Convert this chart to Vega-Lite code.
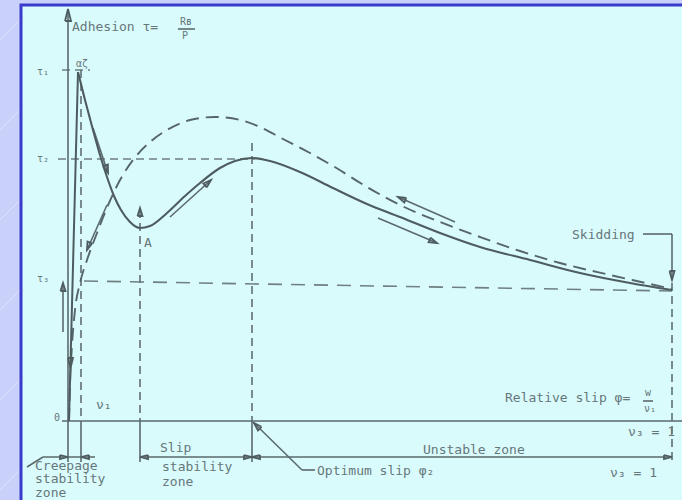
{
  "$schema": "https://vega.github.io/schema/vega-lite/v6.json",
  "width": 682,
  "height": 500,
  "autosize": {"type": "fit", "contains": "padding"},
  "padding": 0,
  "background": "#c9d1fa",
  "config": {"view": {"stroke": null}},
  "datasets": {
    "sheen": [
      {"x": -68, "y": 381, "x2": -48, "y2": 401},
      {"x": -68, "y": 291, "x2": -48, "y2": 311},
      {"x": -68, "y": 201, "x2": -48, "y2": 221},
      {"x": -68, "y": 111, "x2": -48, "y2": 131},
      {"x": -68, "y": 21, "x2": -48, "y2": 41},
      {"x": -68, "y": -69, "x2": -48, "y2": -49}
    ],
    "panel": [{"x": -47, "x2": 640, "y": 416, "y2": -100}],
    "adhesionRise": [{"x": 1, "y": 0}, {"x": 10, "y": 349}],
    "adhesionFall": [
      {"x": 10, "y": 349}, {"x": 17, "y": 321}, {"x": 25, "y": 291}, {"x": 32, "y": 266},
      {"x": 39, "y": 244}, {"x": 46, "y": 225}, {"x": 53, "y": 211}, {"x": 62, "y": 199},
      {"x": 72, "y": 193}, {"x": 82, "y": 195}, {"x": 99, "y": 208}, {"x": 117, "y": 225},
      {"x": 132, "y": 238}, {"x": 152, "y": 253}, {"x": 167, "y": 260}, {"x": 184, "y": 263},
      {"x": 202, "y": 260}, {"x": 232, "y": 249}, {"x": 265, "y": 233}, {"x": 299, "y": 217},
      {"x": 332, "y": 204}, {"x": 372, "y": 188}, {"x": 412, "y": 174}, {"x": 462, "y": 161},
      {"x": 512, "y": 148}, {"x": 562, "y": 138}, {"x": 604, "y": 131}
    ],
    "skidCurve": [
      {"x": 1, "y": 0}, {"x": 2, "y": 36}, {"x": 4, "y": 76}, {"x": 7, "y": 111},
      {"x": 12, "y": 138}, {"x": 19, "y": 161}, {"x": 29, "y": 188}, {"x": 41, "y": 218},
      {"x": 52, "y": 241}, {"x": 65, "y": 261}, {"x": 82, "y": 279}, {"x": 99, "y": 291},
      {"x": 122, "y": 301}, {"x": 147, "y": 304}, {"x": 172, "y": 301}, {"x": 192, "y": 294},
      {"x": 215, "y": 282}, {"x": 242, "y": 268}, {"x": 265, "y": 255}, {"x": 299, "y": 234},
      {"x": 332, "y": 216}, {"x": 372, "y": 199}, {"x": 412, "y": 184}, {"x": 452, "y": 170},
      {"x": 492, "y": 158}, {"x": 542, "y": 146}, {"x": 582, "y": 137}, {"x": 604, "y": 132}
    ],
    "solidRules": [
      {"x": 0, "y": 410, "x2": 0, "y2": -41},
      {"x": -6, "y": 0, "x2": 614, "y2": 0},
      {"x": 13, "y": 0, "x2": 13, "y2": -41},
      {"x": 72, "y": 0, "x2": 72, "y2": -41},
      {"x": 184, "y": 0, "x2": 184, "y2": -41},
      {"x": -25, "y": -36, "x2": 27, "y2": -36},
      {"x": -41, "y": -46, "x2": -25, "y2": -36},
      {"x": 72, "y": -36, "x2": 604, "y2": -36},
      {"x": 186, "y": -2, "x2": 234, "y2": -49},
      {"x": 234, "y": -49, "x2": 247, "y2": -49},
      {"x": 575, "y": 187, "x2": 604, "y2": 187},
      {"x": 604, "y": 187, "x2": 604, "y2": 141},
      {"x": 110, "y": 392, "x2": 127, "y2": 392},
      {"x": 575, "y": 20, "x2": 585, "y2": 20},
      {"x": -5, "y": 89, "x2": -5, "y2": 138},
      {"x": 25, "y": 293, "x2": 40, "y2": 248},
      {"x": 102, "y": 204, "x2": 143, "y2": 241},
      {"x": 387, "y": 199, "x2": 330, "y2": 224},
      {"x": 310, "y": 203, "x2": 369, "y2": 178},
      {"x": 39, "y": 216, "x2": 19, "y2": 171}
    ],
    "levelGuides": [
      {"x": -6, "y": 351, "x2": 22, "y2": 351},
      {"x": -10, "y": 262, "x2": 187, "y2": 262}
    ],
    "tau3Guide": [{"x": 16, "y": 140, "x2": 604, "y2": 130}],
    "slipGuides": [
      {"x": 13, "y": 351, "x2": 13, "y2": 0},
      {"x": 72, "y": 211, "x2": 72, "y2": 0},
      {"x": 184, "y": 278, "x2": 184, "y2": 0},
      {"x": 604, "y": 138, "x2": 604, "y2": -44}
    ],
    "arrowheads": [
      {"arrow": "a1", "i": 0, "x": 35.1, "y": 254.8}, {"arrow": "a1", "i": 1, "x": 40, "y": 248}, {"arrow": "a1", "i": 2, "x": 39.9, "y": 256.4}, {"arrow": "a1", "i": 3, "x": 35.1, "y": 254.8},
      {"arrow": "a2", "i": 0, "x": 138.8, "y": 233.7}, {"arrow": "a2", "i": 1, "x": 143, "y": 241}, {"arrow": "a2", "i": 2, "x": 135.4, "y": 237.5}, {"arrow": "a2", "i": 3, "x": 138.8, "y": 233.7},
      {"arrow": "a3", "i": 0, "x": 338.3, "y": 223}, {"arrow": "a3", "i": 1, "x": 330, "y": 224}, {"arrow": "a3", "i": 2, "x": 336.3, "y": 218.4}, {"arrow": "a3", "i": 3, "x": 338.3, "y": 223},
      {"arrow": "a4", "i": 0, "x": 362.6, "y": 183.4}, {"arrow": "a4", "i": 1, "x": 369, "y": 178}, {"arrow": "a4", "i": 2, "x": 360.6, "y": 178.8}, {"arrow": "a4", "i": 3, "x": 362.6, "y": 183.4},
      {"arrow": "a5", "i": 0, "x": 24.1, "y": 177.6}, {"arrow": "a5", "i": 1, "x": 19, "y": 171}, {"arrow": "a5", "i": 2, "x": 19.5, "y": 179.4}, {"arrow": "a5", "i": 3, "x": 24.1, "y": 177.6},
      {"arrow": "a6", "i": 0, "x": -7.5, "y": 130}, {"arrow": "a6", "i": 1, "x": -5, "y": 138}, {"arrow": "a6", "i": 2, "x": -2.5, "y": 130}, {"arrow": "a6", "i": 3, "x": -7.5, "y": 130},
      {"arrow": "a7", "i": 0, "x": 0, "y": 63}, {"arrow": "a7", "i": 1, "x": 2.5, "y": 53}, {"arrow": "a7", "i": 2, "x": 5, "y": 63}, {"arrow": "a7", "i": 3, "x": 0, "y": 63},
      {"arrow": "a8", "i": 0, "x": 69.5, "y": 205}, {"arrow": "a8", "i": 1, "x": 72, "y": 213}, {"arrow": "a8", "i": 2, "x": 74.5, "y": 205}, {"arrow": "a8", "i": 3, "x": 69.5, "y": 205},
      {"arrow": "a9", "i": 0, "x": 601.5, "y": 150}, {"arrow": "a9", "i": 1, "x": 604, "y": 141}, {"arrow": "a9", "i": 2, "x": 606.5, "y": 150}, {"arrow": "a9", "i": 3, "x": 601.5, "y": 150},
      {"arrow": "a10", "i": 0, "x": 193.5, "y": -5.8}, {"arrow": "a10", "i": 1, "x": 186, "y": -2}, {"arrow": "a10", "i": 2, "x": 190, "y": -9.4}, {"arrow": "a10", "i": 3, "x": 193.5, "y": -5.8},
      {"arrow": "a11", "i": 0, "x": -3, "y": 400}, {"arrow": "a11", "i": 1, "x": 0, "y": 412}, {"arrow": "a11", "i": 2, "x": 3, "y": 400}, {"arrow": "a11", "i": 3, "x": -3, "y": 400},
      {"arrow": "z1", "i": 0, "x": -8, "y": -34}, {"arrow": "z1", "i": 1, "x": 0, "y": -36}, {"arrow": "z1", "i": 2, "x": -8, "y": -38}, {"arrow": "z1", "i": 3, "x": -8, "y": -34},
      {"arrow": "z2", "i": 0, "x": 21, "y": -34}, {"arrow": "z2", "i": 1, "x": 13, "y": -36}, {"arrow": "z2", "i": 2, "x": 21, "y": -38}, {"arrow": "z2", "i": 3, "x": 21, "y": -34},
      {"arrow": "z3", "i": 0, "x": 80, "y": -34}, {"arrow": "z3", "i": 1, "x": 72, "y": -36}, {"arrow": "z3", "i": 2, "x": 80, "y": -38}, {"arrow": "z3", "i": 3, "x": 80, "y": -34},
      {"arrow": "z4", "i": 0, "x": 176, "y": -34}, {"arrow": "z4", "i": 1, "x": 184, "y": -36}, {"arrow": "z4", "i": 2, "x": 176, "y": -38}, {"arrow": "z4", "i": 3, "x": 176, "y": -34},
      {"arrow": "z5", "i": 0, "x": 192, "y": -34}, {"arrow": "z5", "i": 1, "x": 184, "y": -36}, {"arrow": "z5", "i": 2, "x": 192, "y": -38}, {"arrow": "z5", "i": 3, "x": 192, "y": -34},
      {"arrow": "z6", "i": 0, "x": 596, "y": -34}, {"arrow": "z6", "i": 1, "x": 604, "y": -36}, {"arrow": "z6", "i": 2, "x": 596, "y": -38}, {"arrow": "z6", "i": 3, "x": 596, "y": -34}
    ],
    "labels": [
      {"x": 4, "y": 394, "label": "Adhesion τ="},
      {"x": 504, "y": 186, "label": "Skidding"},
      {"x": 437, "y": 23, "label": "Relative slip φ="},
      {"x": 560, "y": -11, "label": "ν₃ = 1"},
      {"x": 355, "y": -29, "label": "Unstable zone"},
      {"x": 92, "y": -27, "label": "Slip"},
      {"x": 94, "y": -46, "label": "stability"},
      {"x": 94, "y": -61, "label": "zone"},
      {"x": -33, "y": -44.5, "label": "Creepage"},
      {"x": -33, "y": -58, "label": "stability"},
      {"x": -33, "y": -71.5, "label": "zone"},
      {"x": 249, "y": -50, "label": "Optimum slip φ₂"},
      {"x": 542, "y": -52, "label": "ν₃ = 1"},
      {"x": 76, "y": 178, "label": "A"},
      {"x": 28, "y": 16, "label": "ν₁"}
    ],
    "smallLabels": [
      {"x": -31, "y": 349, "label": "τ₁"},
      {"x": -31, "y": 262, "label": "τ₂"},
      {"x": -31, "y": 142, "label": "τ₃"},
      {"x": -14, "y": 3, "label": "0"},
      {"x": 112, "y": 399, "label": "Rʙ"},
      {"x": 114, "y": 385, "label": "P"},
      {"x": 577, "y": 28, "label": "w"},
      {"x": 576, "y": 12, "label": "ν₁"},
      {"x": 8, "y": 357, "label": "αζ"}
    ]
  },
  "encoding": {
    "x": {"field": "x", "type": "quantitative", "axis": null, "scale": {"domain": [-68, 614], "nice": false, "zero": false}},
    "y": {"field": "y", "type": "quantitative", "axis": null, "scale": {"domain": [-79, 421], "nice": false, "zero": false}}
  },
  "layer": [
    {
      "data": {"name": "sheen"},
      "mark": {"type": "rule", "stroke": "#ffffff", "strokeWidth": 1, "opacity": 0.35, "clip": true},
      "encoding": {"x2": {"field": "x2"}, "y2": {"field": "y2"}}
    },
    {
      "data": {"name": "panel"},
      "mark": {"type": "rect", "fill": "#dafbfb", "stroke": "#3a3acb", "strokeWidth": 3, "clip": true},
      "encoding": {"x2": {"field": "x2"}, "y2": {"field": "y2"}}
    },
    {
      "data": {"name": "levelGuides"},
      "mark": {"type": "rule", "stroke": "#6f7f82", "strokeWidth": 1.6, "strokeDash": [8, 5], "clip": true},
      "encoding": {"x2": {"field": "x2"}, "y2": {"field": "y2"}}
    },
    {
      "data": {"name": "tau3Guide"},
      "mark": {"type": "rule", "stroke": "#6f7f82", "strokeWidth": 1.6, "strokeDash": [14, 9], "clip": true},
      "encoding": {"x2": {"field": "x2"}, "y2": {"field": "y2"}}
    },
    {
      "data": {"name": "slipGuides"},
      "mark": {"type": "rule", "stroke": "#5f6f72", "strokeWidth": 1.6, "strokeDash": [8, 5], "clip": true},
      "encoding": {"x2": {"field": "x2"}, "y2": {"field": "y2"}}
    },
    {
      "data": {"name": "solidRules"},
      "mark": {"type": "rule", "stroke": "#5a6a6d", "strokeWidth": 1.6, "clip": true},
      "encoding": {"x2": {"field": "x2"}, "y2": {"field": "y2"}}
    },
    {
      "data": {"name": "skidCurve"},
      "mark": {"type": "line", "interpolate": "monotone", "stroke": "#56656a", "strokeWidth": 1.9, "strokeDash": [13, 7], "clip": true},
      "encoding": {}
    },
    {
      "data": {"name": "adhesionRise"},
      "mark": {"type": "line", "stroke": "#4e5c60", "strokeWidth": 2, "clip": true},
      "encoding": {}
    },
    {
      "data": {"name": "adhesionFall"},
      "mark": {"type": "line", "interpolate": "monotone", "stroke": "#4e5c60", "strokeWidth": 2.1, "clip": true},
      "encoding": {}
    },
    {
      "data": {"name": "arrowheads"},
      "mark": {"type": "line", "stroke": "#4e5c60", "strokeWidth": 1.8, "strokeJoin": "miter", "clip": true},
      "encoding": {
        "detail": {"field": "arrow", "type": "nominal"},
        "order": {"field": "i", "type": "quantitative"}
      }
    },
    {
      "data": {"name": "labels"},
      "mark": {"type": "text", "align": "left", "baseline": "middle", "font": "DejaVu Sans Mono", "fontSize": 13, "fill": "#66777b", "clip": true},
      "encoding": {"text": {"field": "label"}}
    },
    {
      "data": {"name": "smallLabels"},
      "mark": {"type": "text", "align": "left", "baseline": "middle", "font": "DejaVu Sans Mono", "fontSize": 10, "fill": "#66777b", "clip": true},
      "encoding": {"text": {"field": "label"}}
    }
  ]
}
